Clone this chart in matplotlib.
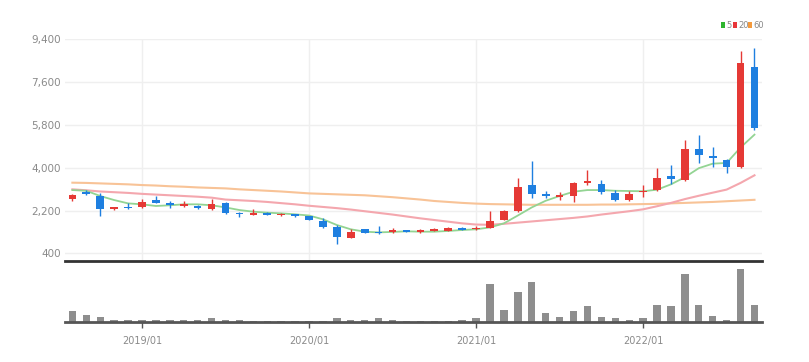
import matplotlib
matplotlib.use("Agg")
import matplotlib.pyplot as plt
from matplotlib.patches import Rectangle
import numpy as np

plt.rcParams['font.family'] = ['Liberation Sans Narrow', 'DejaVu Sans']

# Monthly candles 2018/08 .. 2022/09
months = ["2018/08", "2018/09", "2018/10", "2018/11", "2018/12",
          "2019/01", "2019/02", "2019/03", "2019/04", "2019/05", "2019/06",
          "2019/07", "2019/08", "2019/09", "2019/10", "2019/11", "2019/12",
          "2020/01", "2020/02", "2020/03", "2020/04", "2020/05", "2020/06",
          "2020/07", "2020/08", "2020/09", "2020/10", "2020/11", "2020/12",
          "2021/01", "2021/02", "2021/03", "2021/04", "2021/05", "2021/06",
          "2021/07", "2021/08", "2021/09", "2021/10", "2021/11", "2021/12",
          "2022/01", "2022/02", "2022/03", "2022/04", "2022/05", "2022/06",
          "2022/07", "2022/08", "2022/09"]

opens = [2683, 2965, 2822, 2250, 2350, 2350, 2640, 2515, 2390, 2400, 2250, 2500, 2110,
         2010, 2107, 2000, 2040, 1970, 1758, 1493, 1056, 1409, 1308, 1283, 1380, 1283,
         1340, 1340, 1477, 1410, 1477, 1800, 2180, 3270, 2894, 2755, 2822, 3343, 3314,
         2950, 2641, 2965, 3060, 3650, 3482, 4800, 4490, 4323, 4040, 8220]
highs = [2910, 3050, 2923, 2360, 2500, 2670, 2800, 2600, 2590, 2430, 2670, 2540, 2120,
         2250, 2120, 2100, 2060, 1990, 1900, 1590, 1440, 1430, 1560, 1480, 1400, 1420,
         1450, 1500, 1500, 1560, 2180, 2220, 3555, 4294, 3000, 2980, 3410, 3900, 3480,
         3060, 3030, 3270, 3975, 4113, 5165, 5362, 4857, 4350, 8920, 9020]
lows = [2600, 2850, 1981, 2230, 2280, 2290, 2500, 2290, 2360, 2270, 2210, 2070, 1940,
        2000, 2010, 1960, 1940, 1800, 1460, 778, 1040, 1240, 1230, 1270, 1290, 1270,
        1320, 1330, 1370, 1390, 1450, 1780, 2140, 2713, 2710, 2660, 2570, 3280, 2900,
        2610, 2610, 2780, 3030, 3330, 3440, 4185, 4040, 3764, 4000, 5600]
closes = [2852, 2880, 2263, 2334, 2300, 2545, 2530, 2430, 2470, 2300, 2460, 2110, 2040,
          2080, 2023, 2050, 1956, 1815, 1506, 1085, 1308, 1254, 1241, 1380, 1308, 1380,
          1420, 1465, 1380, 1477, 1758, 2180, 3200, 2894, 2822, 2840, 3343, 3440, 2990,
          2641, 2894, 3032, 3580, 3540, 4800, 4520, 4395, 4016, 8390, 5656]

ma5 = [3060, 3030, 2810, 2640, 2500, 2460, 2390, 2420, 2460, 2460, 2420, 2330, 2220,
       2150, 2110, 2080, 2040, 1990, 1830, 1590, 1410, 1310, 1280, 1300, 1325, 1310,
       1310, 1340, 1380, 1410, 1490, 1660, 1990, 2330, 2610, 2810, 2990, 3060, 3060,
       3030, 3020, 3010, 3075, 3300, 3600, 3980, 4170, 4200, 4850, 5390]
ma20 = [3090, 3050, 3000, 2970, 2940, 2900, 2870, 2840, 2810, 2780, 2740, 2660, 2630,
        2600, 2560, 2510, 2460, 2400, 2350, 2300, 2240, 2170, 2100, 2030, 1950, 1870,
        1800, 1730, 1660, 1610, 1600, 1640, 1690, 1740, 1790, 1840, 1890, 1950, 2030,
        2100, 2170, 2250, 2380, 2520, 2680, 2820, 2950, 3080, 3360, 3680]
ma60 = [3370, 3360, 3340, 3320, 3300, 3270, 3250, 3220, 3200, 3170, 3150, 3130, 3090,
        3060, 3030, 3000, 2960, 2920, 2900, 2880, 2860, 2840, 2800, 2760, 2710, 2660,
        2600, 2560, 2520, 2490, 2470, 2460, 2450, 2440, 2440, 2440, 2440, 2440, 2450,
        2450, 2460, 2470, 2480, 2500, 2520, 2540, 2560, 2590, 2620, 2650]

volume = [10.7, 7.4, 5.0, 1.7, 1.7, 2.3, 2.3, 1.7, 1.7, 1.7, 3.7, 1.7, 1.7,
          1.0, 1.0, 1.0, 1.0, 1.0, 1.0, 3.7, 1.7, 1.7, 3.7, 1.7, 1.0, 1.0,
          1.0, 1.0, 1.7, 4.0, 37.7, 12.4, 30.0, 40.0, 9.0, 5.0, 10.7, 15.7, 5.0,
          4.0, 2.3, 4.0, 16.7, 15.7, 47.7, 17.4, 5.7, 2.3, 53.4, 17.4]

yticks = [400, 2200, 4000, 5800, 7600, 9400]
xtick_labels = ["2019/01", "2020/01", "2021/01", "2022/01"]
legend_labels = ["5", "20", "60"]

UP = '#e53935'
DOWN = '#1e7fe0'
C5, C20, C60 = '#93d493', '#f4a7ae', '#f8c397'
LEG = ['#2fb52f', '#e8363a', '#f49a3c']

W, H = 809, 362
fig = plt.figure(figsize=(W / 100, H / 100), dpi=100)
fig.patch.set_facecolor('white')

ax = fig.add_axes([65 / W, (H - 261) / H, 697 / W, (261 - 38.8) / H])
axv = fig.add_axes([65 / W, (H - 322) / H, 697 / W, (322 - 261) / H])

x = np.arange(len(months))
o = np.array(opens); c = np.array(closes); hi = np.array(highs); lo = np.array(lows)
up = c >= o
cols = np.where(up, UP, DOWN)

ax.plot(x, ma60, color=C60, lw=1.5, zorder=2)
ax.plot(x, ma20, color=C20, lw=1.5, zorder=2)
ax.plot(x, ma5, color=C5, lw=1.3, zorder=2)

ax.vlines(x, lo, hi, colors=cols, lw=1.0, zorder=3)
bottoms = np.minimum(o, c)
heights = np.maximum(np.abs(c - o), 60)
ax.bar(x, heights, bottom=bottoms, width=0.55, color=cols, zorder=4, linewidth=0)

ax.set_xlim(-0.53, 49.54)
ax.set_ylim(77, 9420)
ax.set_yticks(yticks)
ax.set_yticklabels([f"{v:,}" for v in yticks])
tick_idx = [months.index(m) for m in xtick_labels]
ax.set_xticks(tick_idx)
ax.tick_params(axis='x', length=0, labelbottom=False)
ax.tick_params(axis='y', length=0, pad=3, labelsize=7.5, labelcolor='#8a8a8a')
ax.grid(True, color='#efefef', lw=1, zorder=0)
ax.set_axisbelow(True)
for s in ['top', 'left', 'right']:
    ax.spines[s].set_visible(False)
ax.spines['bottom'].set_color('#333333')
ax.spines['bottom'].set_linewidth(2)

axv.bar(x, volume, width=0.53, color='#8e8e8e', linewidth=0, zorder=2)
axv.set_xlim(-0.53, 49.54)
axv.set_ylim(0, max(volume) * 61 / 53.4)
axv.set_yticks([])
axv.set_xticks(tick_idx)
axv.set_xticklabels(xtick_labels)
axv.tick_params(axis='x', length=4, width=1, color='#555555', pad=6,
                labelsize=7, labelcolor='#8a8a8a')
for s in ['top', 'left', 'right']:
    axv.spines[s].set_visible(False)
axv.spines['bottom'].set_color('#555555')
axv.spines['bottom'].set_linewidth(2)
axv.patch.set_alpha(0)

# legend
lx = [721, 733, 748]
for px, lab, col in zip(lx, legend_labels, LEG):
    fig.add_artist(Rectangle((px / W, 1 - 27.5 / H), 4 / W, 5 / H,
                             transform=fig.transFigure, color=col, lw=0))
    fig.text((px + 5.5) / W, 1 - 25 / H, lab, color='#888888', fontsize=6,
             va='center', ha='left')

fig.savefig('out.png', dpi=100, facecolor='white')
